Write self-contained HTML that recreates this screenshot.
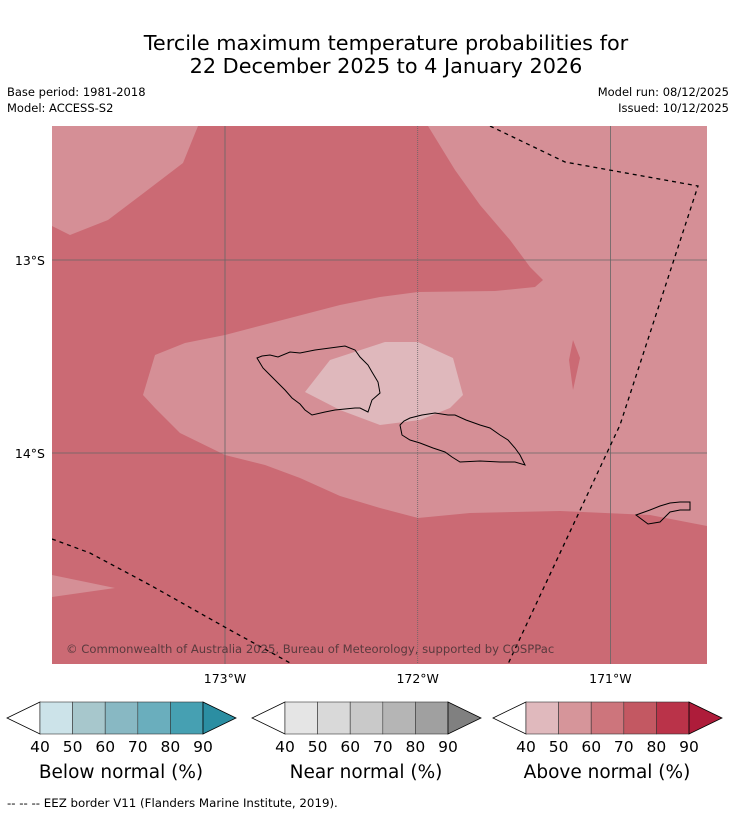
<!DOCTYPE html>
<html><head><meta charset="utf-8"><style>
body{margin:0;background:#fff;width:736px;height:816px;overflow:hidden;font-family:"DejaVu Sans","Liberation Sans",sans-serif}
svg text{font-family:"DejaVu Sans","Liberation Sans",sans-serif}
</style></head><body>
<svg id="c" width="736" height="816" xmlns="http://www.w3.org/2000/svg">
<text x="386" y="50" text-anchor="middle" font-size="20.8">Tercile maximum temperature probabilities for</text>
<text x="386" y="73" text-anchor="middle" font-size="20.8">22 December 2025 to 4 January 2026</text>
<text x="7" y="96" font-size="11.5">Base period: 1981-2018</text>
<text x="7" y="112" font-size="11.5">Model: ACCESS-S2</text>
<text x="729" y="96" font-size="11.5" text-anchor="end">Model run: 08/12/2025</text>
<text x="729" y="112" font-size="11.5" text-anchor="end">Issued: 10/12/2025</text>
<defs><clipPath id="mc"><rect x="52" y="126" width="655" height="538"/></clipPath></defs>
<g clip-path="url(#mc)">
<rect x="52" y="126" width="655" height="538" fill="#cb6a74"/>
<polygon fill="#d58f96" points="52,126 198,126 183,163 145,192 108,220 70,235 52,226"/>
<polygon fill="#d58f96" points="428,126 707,126 707,526 650,515 560,511 470,513 418,518 380,508 340,496 300,478 265,465 225,455 180,433 155,408 143,395 155,355 185,343 225,335 290,318 340,305 380,297 418,292 495,291 535,287 543,280 530,267 510,240 480,205 455,170"/>
<polygon fill="#d58f96" points="52,575 115,588 52,597"/>
<polygon fill="#dfb8bc" points="305,392 330,360 385,342 418,342 453,358 463,395 450,408 420,420 380,425 340,410"/>
<polygon fill="#cb6a74" points="573,340 580,358 573,390 569,360"/>
<g id="grid"></g>
<path d="M257,358 L262,356 270,355 278,357 290,352 300,353 315,350 330,348 345,346 355,350 360,357 368,365 372,372 378,382 380,393 372,400 368,412 360,408 355,408 345,409 335,410 325,412 312,415 305,410 300,404 292,398 285,390 278,383 270,375 263,368 Z" fill="none" stroke="#000" stroke-width="1"/>
<path d="M400,425 L404,421 410,418 422,415 435,413 448,415 455,415 466,420 480,425 490,428 500,435 508,440 515,448 520,455 525,465 515,462 500,462 480,461 460,462 452,457 445,452 433,448 420,443 410,440 402,435 Z" fill="none" stroke="#000" stroke-width="1"/>
<path d="M636,515 L650,510 660,506 670,503 680,502 690,502 690,510 680,510 670,512 665,517 660,522 648,524 Z" fill="none" stroke="#000" stroke-width="1"/>
<polyline points="490,126 565,162 698,186 620,425 508,664" fill="none" stroke="#000" stroke-width="1.3" stroke-dasharray="4,4"/>
<polyline points="52,539 90,553 150,585 230,630 292,664" fill="none" stroke="#000" stroke-width="1.3" stroke-dasharray="4,4"/>
<text x="66" y="653" font-size="11.6" fill="#5a3a3e">© Commonwealth of Australia 2025, Bureau of Meteorology, supported by COSPPac</text>
</g>
<g id="ticks"></g>
<g id="legends"></g>
<text x="7" y="807" font-size="11.8">--  --  -- EEZ border V11 (Flanders Marine Institute, 2019).</text>
</svg>
<script>
const lonTicks=[-173,-172,-171];
const lonLabels=["173°W","172°W","171°W"];
const latTicks=[-13,-14];
const latLabels=["13°S","14°S"];
const legendTicks=[40,50,60,70,80,90];
const legendTitles=["Below normal (%)","Near normal (%)","Above normal (%)"];
const belowColors=["#cce3e9","#a7c7cc","#88b8c3","#6aaebd","#46a0b2","#2b8ea2"];
const nearColors=["#e5e5e5","#d9d9d9","#c9c9c9","#b5b5b5","#a0a0a0","#808080"];
const aboveColors=["#e0b9bd","#d6959a","#cd757c","#c35862","#ba3349","#ae1c3a"];
const NS="http://www.w3.org/2000/svg";
function xLon(l){return 225+(l+173)*192.7;}
function yLat(l){return 260+(-13-l)*193;}
function mk(t,a,p){const e=document.createElementNS(NS,t);for(const k in a)e.setAttribute(k,a[k]);p.appendChild(e);return e;}
const grid=document.getElementById('grid'),ticks=document.getElementById('ticks');
lonTicks.forEach((l,i)=>{
 const ln=mk('line',{x1:xLon(l),x2:xLon(l),y1:126,y2:664,stroke:'#666','stroke-width':0.8},grid);
 if(l===-172)ln.setAttribute('stroke-dasharray','1,1');
 
 
 const t=mk('text',{x:xLon(l),y:683,'text-anchor':'middle','font-size':12.5},ticks);t.textContent=lonLabels[i];
 
 
});
latTicks.forEach((l,i)=>{
 const ln=mk('line',{x1:52,x2:707,y1:yLat(l),y2:yLat(l),stroke:'#666','stroke-width':0.8},grid);
 
 
 const t=mk('text',{x:45,y:yLat(l)+5,'text-anchor':'end','font-size':12.5},ticks);t.textContent=latLabels[i];
 
 
});
const lg=document.getElementById('legends');
const starts=[40,285,526];
[belowColors,nearColors,aboveColors].forEach((cols,j)=>{
 const g=mk('g',{},lg);
 
 
 const x0=starts[j],w=163/5,top=702,bot=734,mid=718;
 const lt=mk('polygon',{points:`${x0},${top} ${x0-33},${mid} ${x0},${bot}`,fill:'#fff',stroke:'#000','stroke-width':0.8},g);
 
 
 for(let k=0;k<5;k++){
  const r=mk('rect',{x:x0+k*w,y:top,width:w,height:bot-top,fill:cols[k],stroke:'#333','stroke-width':0.6},g);
  
  
 }
 const rt=mk('polygon',{points:`${x0+163},${top} ${x0+196},${mid} ${x0+163},${bot}`,fill:cols[5],stroke:'#000','stroke-width':0.8},g);
 
 
 legendTicks.forEach((v,k)=>{
  const t=mk('text',{x:x0+k*w,y:752,'text-anchor':'middle','font-size':15.5},g);t.textContent=v;
  
  
 });
 const tt=mk('text',{x:x0+81,y:778,'text-anchor':'middle','font-size':18.5},g);tt.textContent=legendTitles[j];
 
 
});
</script>
</body></html>
